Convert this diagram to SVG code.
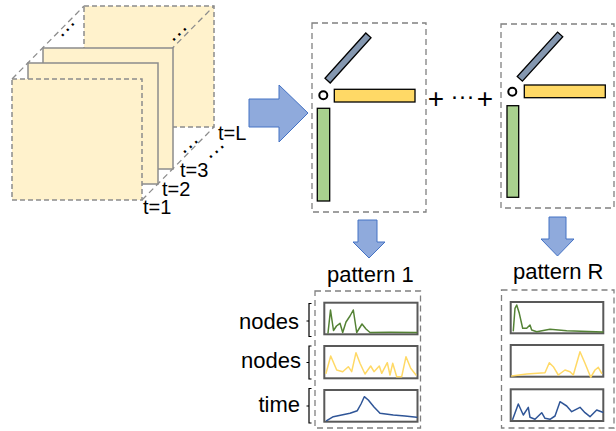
<svg xmlns="http://www.w3.org/2000/svg" width="616" height="431" viewBox="0 0 616 431">
<style>
.frame{fill:#FFF2CC;stroke:#8C8C8C;stroke-width:1.5}
.fd{stroke-dasharray:5,3}
.diag{stroke:#8C8C8C;stroke-width:1.3;stroke-dasharray:6,4;fill:none}
.panel{fill:none;stroke:#808080;stroke-width:1.3;stroke-dasharray:6,4}
.bigarrow{fill:#8FAADC;stroke:#4472C4;stroke-width:1}
.lbl{font-family:"Liberation Sans",Arial,sans-serif;fill:#000}
.dots{font-family:"Liberation Sans",Arial,sans-serif;font-size:22px;fill:#000;text-anchor:middle}
.chart{fill:#fff;stroke:#595959;stroke-width:2}
.line{fill:none;stroke-width:1.5;stroke-linejoin:round;stroke-linecap:round}
.brace{fill:none;stroke:#000;stroke-width:1.2}
</style>

<g id="tensor">
  <rect class="frame fd" x="84" y="6" width="130" height="121"/>
  <line class="diag" x1="12" y1="79" x2="84" y2="6"/>
  <line class="diag" x1="142" y1="79" x2="214" y2="6"/>
  <line class="diag" x1="142" y1="200" x2="214" y2="127"/>
  <rect class="frame" x="43" y="48" width="130" height="121"/>
  <rect class="frame" x="28" y="63" width="130" height="121"/>
  <rect class="frame fd" x="12" y="79" width="130" height="121"/>
  <text class="dots" transform="translate(67,29) rotate(-46)" y="7">···</text>
  <text class="dots" transform="translate(178.7,33.6) rotate(-43)" y="7">···</text>
  <text class="dots" transform="translate(190,146) rotate(-40)" y="7">···</text>
  <text class="dots" transform="translate(216,151) rotate(-40)" y="7">···</text>
  <text class="lbl" x="143" y="214" font-size="20">t=1</text>
  <text class="lbl" x="162" y="196" font-size="20">t=2</text>
  <text class="lbl" x="180" y="177" font-size="20">t=3</text>
  <text class="lbl" x="218" y="140" font-size="20">t=L</text>
</g>

<g id="connectors">
  <polygon class="bigarrow" points="249,99 279,99 279,85 308,113 279,142 279,127 249,127"/>
  <polygon class="bigarrow" points="358,220 377,220 377,242 385,242 369,258 353,242 358,242"/>
  <polygon class="bigarrow" points="549,217 566,217 566,239 574,239 557.5,256 541,239 549,239"/>
</g>

<g id="component1">
  <rect class="panel" x="312" y="23" width="114" height="189"/>
  <rect x="-30.5" y="-3.5" width="61" height="7" fill="#8497B0" stroke="#000" stroke-width="1.3" transform="translate(348,58) rotate(-48)"/>
  <circle cx="323.3" cy="95.3" r="4" fill="none" stroke="#000" stroke-width="2"/>
  <rect x="334.3" y="89.3" width="80.7" height="12.7" fill="#FFD966" stroke="#000" stroke-width="1.3"/>
  <rect x="317.3" y="108.3" width="12.4" height="92.7" fill="#A9D18E" stroke="#000" stroke-width="1.3"/>
</g>

<g id="plus">
  <text class="lbl" x="436" y="108" font-size="28" text-anchor="middle">+</text>
  <text class="lbl" x="462.5" y="103.7" font-size="24" text-anchor="middle">···</text>
  <text class="lbl" x="485" y="108" font-size="28" text-anchor="middle">+</text>
</g>

<g id="componentR">
  <rect class="panel" x="501" y="24" width="113" height="184"/>
  <rect x="-30" y="-3.5" width="60" height="7" fill="#8497B0" stroke="#000" stroke-width="1.3" transform="translate(540,56.6) rotate(-47.7)"/>
  <circle cx="512.3" cy="91.7" r="4" fill="none" stroke="#000" stroke-width="2"/>
  <rect x="524.3" y="85" width="81" height="12.7" fill="#FFD966" stroke="#000" stroke-width="1.3"/>
  <rect x="507" y="105.7" width="11.7" height="91.6" fill="#A9D18E" stroke="#000" stroke-width="1.3"/>
</g>

<g id="pattern1">
  <text class="lbl" x="327" y="282" font-size="22">pattern 1</text>
  <rect class="panel" x="315" y="291" width="105.5" height="137"/>
  <text class="lbl" x="299" y="329" font-size="22" text-anchor="end">nodes</text>
  <text class="lbl" x="301" y="368" font-size="22" text-anchor="end">nodes</text>
  <text class="lbl" x="300" y="412" font-size="22" text-anchor="end">time</text>
  <path class="brace" d="M311.5,303.5 H309 V336.5 H311.5 M309,321 H306.5"/>
  <path class="brace" d="M311.5,346 H309 V379 H311.5 M309,362.5 H306.5"/>
  <path class="brace" d="M311.5,388.5 H309 V423 H311.5 M309,406 H306.5"/>
  <rect class="chart" x="324.3" y="302.7" width="93.2" height="31.6"/>
  <rect class="chart" x="324.3" y="346" width="93.2" height="32.3"/>
  <rect class="chart" x="324.3" y="390" width="93.2" height="31.7"/>
  <polyline class="line" stroke="#548235" points="328,333 330.5,310 333.5,330.5 336.5,326 340,323.3 342.7,332.5 346,322 350,316 353.3,310 356.7,332.5 359.5,328 362,324 366,329 370,332.5 390,332.3 416.7,332.5"/>
  <polyline class="line" stroke="#FFD966" points="326,373.3 330.7,356 336.7,370 342.7,371.7 348.3,366.7 351.7,371.7 356,352.7 360,363.3 365,374 370.7,366 374,371.7 379.3,366 381.7,373.3 387.3,362.7 390,375 392.7,363.3 396.7,376.7 401.7,376.7 406,356.7 410.7,368.3 416,375"/>
  <polyline class="line" stroke="#2F5597" points="326.7,420.7 333.3,416.7 350,413.3 357.3,410.7 361,404 364.3,396.7 368.3,400 374,407 380,413.3 393.3,415 405,416 416.7,417.3"/>
</g>

<g id="patternR">
  <text class="lbl" x="513" y="279" font-size="22">pattern R</text>
  <rect class="panel" x="501.5" y="290" width="112.5" height="138"/>
  <rect class="chart" x="510.7" y="302" width="92.6" height="31.3"/>
  <rect class="chart" x="510.7" y="345" width="92.6" height="31.7"/>
  <rect class="chart" x="510.7" y="389.3" width="92.6" height="31.7"/>
  <polyline class="line" stroke="#548235" points="513.3,330.7 515,308.3 516.7,305 519.3,313.3 522.7,328.3 526.7,328.3 530,325 531.7,330 536.7,331.7 550,329.3 566.7,330.7 603,332"/>
  <polyline class="line" stroke="#FFD966" points="511.7,376 526.7,374 545,372.7 549.3,362.7 553.3,366.7 558.3,375 565,370 570,371.7 573.3,375 580,351.7 585,363.3 590.7,377.3 595,370 598.3,367.3 601.7,373.3"/>
  <polyline class="line" stroke="#2F5597" points="512.7,419.3 518.3,404 523.3,415 528.3,407.3 530,417.3 535,419.3 541.7,412.7 545,418.3 550,419.3 555,416 560,401.7 566.7,406 571.7,411.7 580,407.3 585,412.7 590,416.7 596.7,410 602.7,412.3"/>
</g>
</svg>
